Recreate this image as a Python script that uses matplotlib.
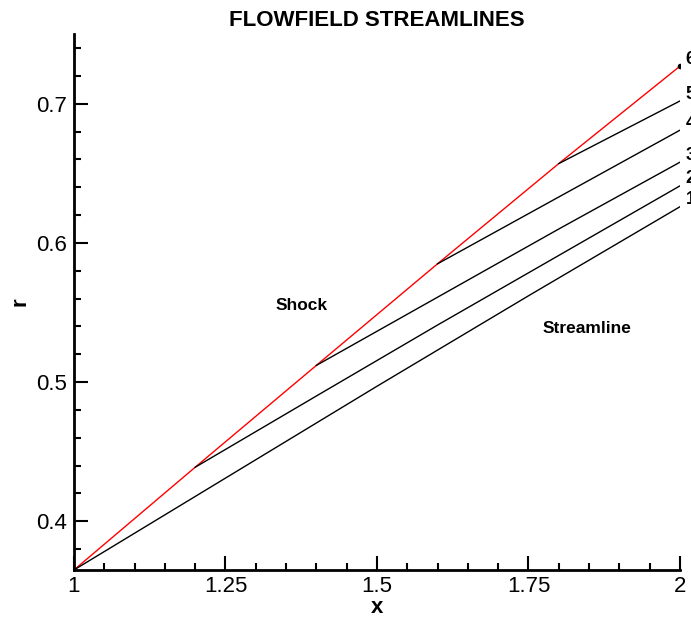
import numpy as np
import matplotlib.pyplot as plt
from matplotlib.ticker import MultipleLocator

plt.rcParams['font.family'] = ['Liberation Sans', 'DejaVu Sans']

# shock line (red)
shock_x = [1.0, 1.2, 1.4, 1.6, 1.8, 2.0]
shock_r = [0.365, 0.4388, 0.512, 0.585, 0.657, 0.727]

# streamlines, each starting on the shock
stream_x = [
    [1.0, 1.25, 1.5, 1.75, 2.0],
    [1.2, 1.4, 1.6, 1.8, 2.0],
    [1.4, 1.6, 1.8, 2.0],
    [1.6, 1.8, 2.0],
    [1.8, 2.0],
]
stream_r = [
    [0.365, 0.431, 0.497, 0.562, 0.626],
    [0.4388, 0.490, 0.541, 0.591, 0.641],
    [0.512, 0.561, 0.610, 0.658],
    [0.585, 0.633, 0.681],
    [0.657, 0.702],
]
labels = ['1', '2', '3', '4', '5', '6']

fig = plt.figure(figsize=(6.91, 6.18), dpi=100)
ax = fig.add_axes([0.107, 0.0777, 0.877, 0.867])

ax.plot(shock_x, shock_r, color='red', lw=1)
for xs, rs in zip(stream_x, stream_r):
    ax.plot(xs, rs, color='black', lw=1)
ax.plot([shock_x[-1]], [shock_r[-1]], 'ko', ms=3)

# streamline numbers at the right edge
ends = [rs[-1] for rs in stream_r] + [shock_r[-1]]
for lab, r in zip(labels, ends):
    ax.text(2.009, r + 0.005, lab, fontsize=13, fontweight='bold',
            ha='left', va='center', clip_on=False)

ax.text(1.376, 0.552, 'Shock', fontsize=12.5, fontweight='bold', ha='center')
ax.text(1.847, 0.535, 'Streamline', fontsize=12.5, fontweight='bold', ha='center')

ax.set_xlim(1, 2)
ax.set_ylim(0.365, 0.75)
ax.set_xticks([1, 1.25, 1.5, 1.75, 2])
ax.set_xticklabels(['1', '1.25', '1.5', '1.75', '2'])
ax.set_yticks([0.4, 0.5, 0.6, 0.7])
ax.xaxis.set_minor_locator(MultipleLocator(0.05))
ax.yaxis.set_minor_locator(MultipleLocator(0.02))
ax.tick_params(which='both', direction='in', width=1.5, labelsize=16)
ax.tick_params(axis='x', pad=4)
ax.tick_params(axis='y', pad=5)
ax.tick_params(which='major', length=10)
ax.tick_params(which='minor', length=5)

for s in ['top', 'right']:
    ax.spines[s].set_visible(False)
for s in ['left', 'bottom']:
    ax.spines[s].set_linewidth(2)

ax.set_xlabel('x', fontsize=16, fontweight='bold', labelpad=0)
ax.set_ylabel('r', fontsize=16, fontweight='bold', labelpad=4)
ax.set_title('FLOWFIELD STREAMLINES', fontsize=16, fontweight='bold', pad=6)

plt.savefig('out.png', dpi=100)
